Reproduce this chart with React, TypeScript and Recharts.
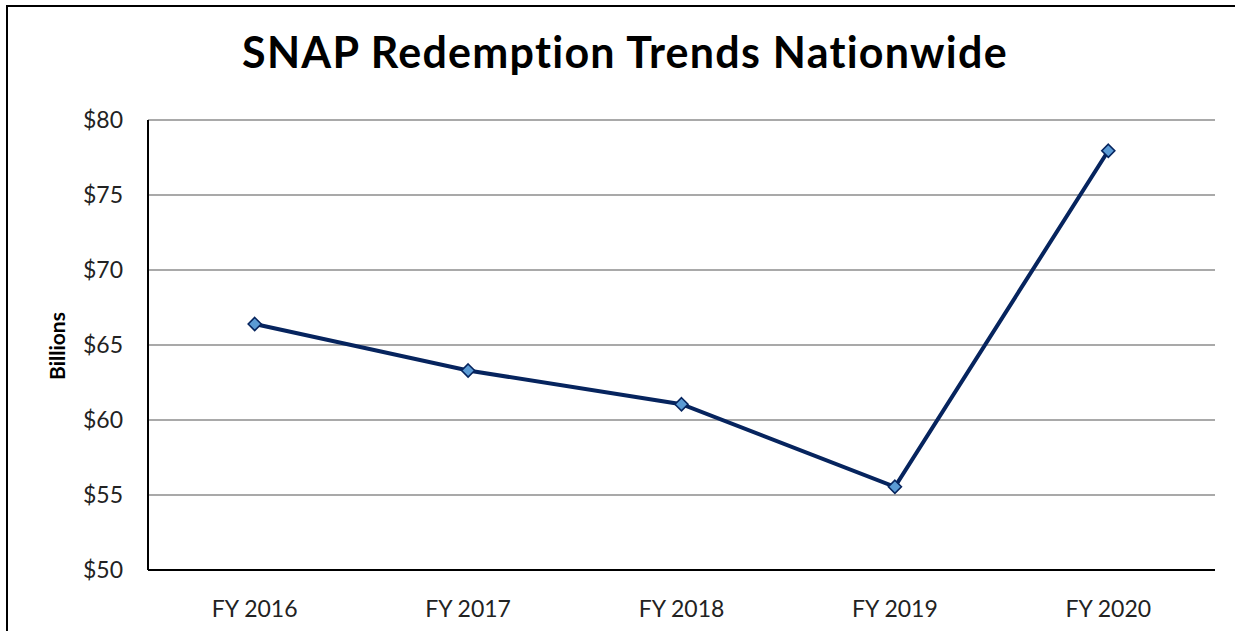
import React from "react";
import { LineChart, Line, XAxis, YAxis, CartesianGrid, Customized } from "recharts";

const categories = ["FY 2016", "FY 2017", "FY 2018", "FY 2019", "FY 2020"];
const redemptions = [66.4, 63.3, 61.05, 55.55, 77.95];
const yTicks = [50, 55, 60, 65, 70, 75, 80];

const data = categories.map((c, i) => ({ name: c, value: redemptions[i] }));

const FONT = "Lato, 'Open Sans', sans-serif";

const Diamond = (props: any) => {
  const { cx, cy } = props;
  if (cx == null || cy == null) return null;
  const r = 6.5;
  return (
    <polygon
      points={`${cx},${cy - r} ${cx + r},${cy} ${cx},${cy + r} ${cx - r},${cy}`}
      fill="#5B9BD5"
      stroke="#06245E"
      strokeWidth={1.6}
    />
  );
};

export default function App() {
  return (
    <div style={{ position: "fixed", left: 0, top: 0, width: 1235, height: 631, overflow: "hidden", background: "#fff" }}>
      <div
        style={{
          position: "absolute",
          left: 6,
          top: 5,
          width: 1260,
          height: 660,
          border: "2px solid #000",
          boxSizing: "border-box",
        }}
      />
      <div style={{ position: "absolute", left: 0, top: 0 }}>
        <LineChart width={1235} height={631} data={data} margin={{ top: 120, right: 20, bottom: 31, left: 88 }}>
          <CartesianGrid vertical={false} stroke="#8c8c8c" strokeWidth={1.6} />
          <XAxis
            dataKey="name"
            scale="band"
            height={30}
            axisLine={{ stroke: "#000", strokeWidth: 2 }}
            tickLine={false}
            tickSize={0}
            tickMargin={31}
            tick={{ fontFamily: FONT, fontSize: 23, fill: "#222" }}
          />
          <YAxis
            width={60}
            domain={[50, 80]}
            ticks={yTicks}
            tickFormatter={(v: number) => `$${v}`}
            axisLine={{ stroke: "#000", strokeWidth: 2 }}
            tickLine={false}
            tickSize={0}
            tickMargin={25}
            tick={{ fontFamily: FONT, fontSize: 23, fill: "#222" }}
            interval={0}
          />
          <Line
            type="linear"
            dataKey="value"
            stroke="#06245E"
            strokeWidth={4}
            dot={<Diamond />}
            activeDot={false}
            isAnimationActive={false}
          />
          <Customized
            component={() => (
              <g>
                <text
                  x={625}
                  y={68}
                  textAnchor="middle"
                  fontFamily={FONT}
                  fontWeight={700}
                  fontSize={43}
                  letterSpacing={1.25}
                  fill="#000"
                >
                  SNAP Redemption Trends Nationwide
                </text>
                <text
                  x={65}
                  y={346}
                  textAnchor="middle"
                  transform="rotate(-90 65 346)"
                  fontFamily={FONT}
                  fontWeight={700}
                  fontSize={21}
                  fill="#000"
                >
                  Billions
                </text>
              </g>
            )}
          />
        </LineChart>
      </div>
    </div>
  );
}
